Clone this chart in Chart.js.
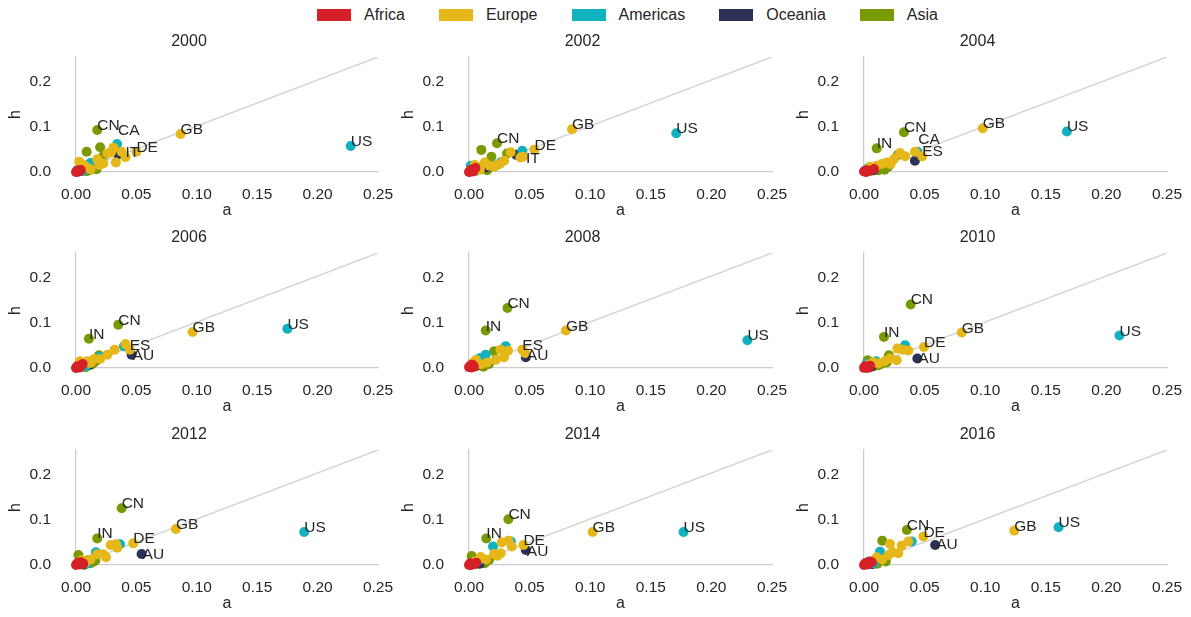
<!DOCTYPE html>
<html>
<head>
<meta charset="utf-8">
<script src="https://cdn.jsdelivr.net/npm/chart.js@4.4.1/dist/chart.umd.min.js"></script>
<style>
  html, body { margin: 0; padding: 0; background: #ffffff; }
  #wrap { position: relative; width: 1191px; height: 617px; overflow: hidden;
          font-family: 'Liberation Sans', Arial, sans-serif; color: #262626; background: #ffffff; }
  #legend { position: absolute; left: 317px; top: 0; height: 29px; display: flex; align-items: center; font-size: 16px; }
  .item { display: flex; align-items: center; margin-right: 34px; }
  .patch { width: 34px; height: 12px; margin-right: 13px; }
  canvas { position: absolute; }
</style>
</head>
<body>
<div id="wrap"><div id="legend"></div></div>
<script>
// ---- data ---------------------------------------------------------------
const regionKeys  = ['AF', 'EU', 'AM', 'OC', 'AS'];
const regionNames = ['Africa', 'Europe', 'Americas', 'Oceania', 'Asia'];
const years  = ['2000', '2002', '2004', '2006', '2008', '2010', '2012', '2014', '2016'];
const xTicks = [0, 0.05, 0.10, 0.15, 0.20, 0.25];
const yTicks = [0, 0.1, 0.2];
const xLimits = [0, 0.25];
const yLimits = [0, 0.255];

// [region, a, h, label]
const pts2000 = [
  ['AF',0,0],['AF',0.001,0.001],['AF',0.002,0.003],['AF',0.003,0.002],['AF',0.004,0.0045],
  ['AF',0.001,0.002],['AF',0.0005,0.0005],['AF',0.002,0.001],['AF',0.003,0.004],['AF',0.0015,0.0025],
  ['EU',0.0866,0.0844,'GB'],['EU',0.050,0.045,'DE'],['EU',0.041,0.033,'IT'],['EU',0.0378,0.045],
  ['EU',0.029,0.044],['EU',0.033,0.021],['EU',0.026,0.041],['EU',0.0176,0.028],['EU',0.0226,0.019],
  ['EU',0.019,0.0155],['EU',0.0027,0.023],['EU',0.006,0.0155],['EU',0.008,0.012],['EU',0.004,0.008],
  ['EU',0.012,0.006],['EU',0.031,0.054],
  ['AM',0.2274,0.0578,'US'],['AM',0.034,0.062,'CA'],['AM',0.012,0.020],['AM',0.0176,0.021],
  ['AM',0.003,0.006],['AM',0.006,0.003],['AM',0.001,0.004],
  ['OC',0.035,0.039],['OC',0.004,0.002],
  ['AS',0.0176,0.093,'CN'],['AS',0.0088,0.045],['AS',0.020,0.055],['AS',0.0226,0.0355],['AS',0.0157,0.019],
  ['AS',0.011,0.017],['AS',0.017,0.006],['AS',0.0116,0.0044],['AS',0.007,0.004],['AS',0.009,0.002],
  ['AS',0.005,0.006],['AS',0.002,0.001]
];
const pts2002 = [
  ['AF',0.0006,0.0007],['AF',0.0053,0.009],['AF',0.002,0.003],['AF',0.003,0.001],['AF',0.001,0.002],
  ['AF',0.004,0.005],['AF',0,0],['AF',0.002,0.0055],
  ['EU',0.085,0.095,'GB'],['EU',0.054,0.0496,'DE'],['EU',0.0446,0.034,'IT'],['EU',0.0424,0.032],
  ['EU',0.0344,0.0436],['EU',0.029,0.025],['EU',0.0253,0.0178],['EU',0.013,0.021],['EU',0.017,0.014],
  ['EU',0.0047,0.0155],['EU',0.021,0.012],['EU',0.009,0.005],['EU',0.003,0.008],
  ['AM',0.171,0.086,'US'],['AM',0.044,0.047],['AM',0.0014,0.014],['AM',0.026,0.021],['AM',0.006,0.004],['AM',0.002,0.007],
  ['OC',0.039,0.038],['OC',0.0143,0.010],
  ['AS',0.0231,0.0636,'CN'],['AS',0.0102,0.049],['AS',0.0185,0.034],['AS',0.0314,0.041],['AS',0.022,0.014],
  ['AS',0.011,0.0067],['AS',0.008,0.010],['AS',0.015,0.004],['AS',0.005,0.002],['AS',0.003,0.004]
];
const pts2004 = [
  ['AF',0.0017,0],['AF',0.0083,0.0067],['AF',0.001,0.002],['AF',0.003,0.001],['AF',0.002,0.004],
  ['AF',0.004,0.003],['AF',0,0.001],
  ['EU',0.098,0.097,'GB'],['EU',0.048,0.0347,'ES'],['EU',0.0421,0.045],['EU',0.034,0.035],['EU',0.0297,0.042],
  ['EU',0.0248,0.029],['EU',0.0187,0.021],['EU',0.0146,0.0178],['EU',0.0105,0.014],['EU',0.005,0.0117],
  ['EU',0.022,0.018],['EU',0.007,0.006],
  ['AM',0.1674,0.090,'US'],['AM',0.044,0.0447,'CA'],['AM',0.0036,0.009],['AM',0.010,0.012],['AM',0.002,0.005],
  ['OC',0.042,0.025],['OC',0.008,0.004],
  ['AS',0.033,0.088,'CN'],['AS',0.0105,0.0524,'IN'],['AS',0.028,0.038],['AS',0.020,0.0116],['AS',0.017,0.0051],
  ['AS',0.012,0.004],['AS',0.006,0.003],['AS',0.014,0.008]
];
const pts2006 = [
  ['AF',0.0005,0.0013],['AF',0.0055,0.0089],['AF',0.002,0.003],['AF',0.003,0.001],['AF',0.001,0.004],
  ['AF',0.004,0.005],['AF',0,0],
  ['EU',0.0965,0.080,'GB'],['EU',0.0445,0.0407,'ES'],['EU',0.041,0.053],['EU',0.032,0.0407],['EU',0.026,0.0296],
  ['EU',0.015,0.02],['EU',0.0095,0.0148],['EU',0.0033,0.0148],['EU',0.006,0.01],['EU',0.012,0.011],['EU',0.020,0.02],
  ['AM',0.175,0.087,'US'],['AM',0.0397,0.048],['AM',0.0198,0.025],['AM',0.004,0.006],['AM',0.008,0.004],
  ['OC',0.046,0.0296,'AU'],['OC',0.011,0.0074],
  ['AS',0.035,0.096,'CN'],['AS',0.0107,0.065,'IN'],['AS',0.019,0.028],['AS',0.0163,0.0148],['AS',0.0124,0.0074],
  ['AS',0.005,0.003],['AS',0.008,0.002],['AS',0.014,0.01]
];
const pts2008 = [
  ['AF',0,0.002],['AF',0.0028,0.0074],['AF',0.001,0.004],['AF',0.002,0.001],['AF',0.004,0.003],
  ['AF',0.0015,0.006],['AF',0.003,0.005],
  ['EU',0.080,0.083,'GB'],['EU',0.044,0.0407,'ES'],['EU',0.0463,0.033],['EU',0.0322,0.0385],['EU',0.026,0.0407],
  ['EU',0.0289,0.0237],['EU',0.0221,0.0185],['EU',0.0058,0.018],['EU',0.003,0.011],['EU',0.010,0.008],['EU',0.015,0.012],
  ['AM',0.2297,0.0615,'US'],['AM',0.0303,0.048],['AM',0.0138,0.0296],['AM',0.0091,0.022],['AM',0.004,0.006],
  ['OC',0.0469,0.0237,'AU'],['OC',0.009,0.007],
  ['AS',0.0317,0.133,'CN'],['AS',0.0138,0.083,'IN'],['AS',0.0207,0.037],['AS',0.0165,0.0089],['AS',0.0105,0.0148],
  ['AS',0.006,0.004],['AS',0.012,0.003]
];
const pts2010 = [
  ['AF',0,0.0003],['AF',0.005,0.005],['AF',0.002,0.002],['AF',0.003,0.0005],['AF',0.001,0.004],
  ['AF',0.004,0.001],['AF',0.0015,0.001],
  ['EU',0.0807,0.0787,'GB'],['EU',0.0495,0.0467,'DE'],['EU',0.0275,0.043],['EU',0.0325,0.0407],['EU',0.0366,0.039],
  ['EU',0.0215,0.021],['EU',0.027,0.017],['EU',0.0077,0.013],['EU',0.004,0.008],['EU',0.012,0.01],['EU',0.017,0.015],
  ['AM',0.2108,0.072,'US'],['AM',0.0339,0.0504],['AM',0.010,0.015],['AM',0.005,0.006],['AM',0.002,0.009],
  ['OC',0.044,0.021,'AU'],['OC',0.006,0.003],
  ['AS',0.0385,0.141,'CN'],['AS',0.0165,0.069,'IN'],['AS',0.0206,0.028],['AS',0.0187,0.012],['AS',0.0118,0.006],
  ['AS',0.003,0.017],['AS',0.008,0.004],['AS',0.014,0.009]
];
const pts2012 = [
  ['AF',0,0],['AF',0.0047,0.0052],['AF',0.002,0.002],['AF',0.001,0.004],['AF',0.003,0.001],
  ['AF',0.0035,0.006],['AF',0.006,0.003],
  ['EU',0.0827,0.080,'GB'],['EU',0.0474,0.048,'DE'],['EU',0.0287,0.0444],['EU',0.0331,0.046],['EU',0.0342,0.0385],
  ['EU',0.0176,0.0237],['EU',0.0226,0.024],['EU',0.0248,0.017],['EU',0.0047,0.0104],['EU',0.008,0.006],['EU',0.012,0.012],
  ['AM',0.1889,0.0733,'US'],['AM',0.0364,0.046],['AM',0.0165,0.028],['AM',0.004,0.007],['AM',0.009,0.003],
  ['OC',0.0543,0.0244,'AU'],['OC',0.007,0.002],
  ['AS',0.0378,0.126,'CN'],['AS',0.0176,0.059,'IN'],['AS',0.0143,0.0074],['AS',0.0102,0.0104],['AS',0.002,0.022],
  ['AS',0.0066,0],['AS',0.012,0.004],['AS',0.016,0.01]
];
const pts2014 = [
  ['AF',0,0],['AF',0.006,0.0052],['AF',0.002,0.002],['AF',0.001,0.004],['AF',0.003,0.001],
  ['AF',0.004,0.003],['AF',0.0015,0],
  ['EU',0.102,0.0733,'GB'],['EU',0.0449,0.0444,'DE'],['EU',0.0325,0.054],['EU',0.027,0.05],['EU',0.0353,0.041],
  ['EU',0.0207,0.0244],['EU',0.0262,0.026],['EU',0.0234,0.0207],['EU',0.0096,0.0178],['EU',0.005,0.008],['EU',0.014,0.012],
  ['AM',0.177,0.0733,'US'],['AM',0.0198,0.041],['AM',0.0345,0.052],['AM',0.004,0.006],['AM',0.008,0.01],
  ['OC',0.0469,0.0333,'AU'],['OC',0.009,0.003],
  ['AS',0.0325,0.1015,'CN'],['AS',0.0143,0.059,'IN'],['AS',0.0165,0.011],['AS',0.011,0.0074],['AS',0.0022,0.02],
  ['AS',0.006,0.002],['AS',0.013,0.004]
];
const pts2016 = [
  ['AF',0,0],['AF',0.005,0.008],['AF',0.002,0.002],['AF',0.001,0.004],['AF',0.003,0.001],
  ['AF',0.004,0.004],['AF',0.0065,0.006],
  ['EU',0.124,0.0763,'GB'],['EU',0.049,0.063,'DE'],['EU',0.0366,0.052],['EU',0.0215,0.0467],['EU',0.0311,0.0429],
  ['EU',0.0283,0.026],['EU',0.0237,0.028],['EU',0.0204,0.022],['EU',0.0105,0.017],['EU',0.006,0.008],['EU',0.015,0.012],
  ['AM',0.1605,0.0837,'US'],['AM',0.0394,0.052],['AM',0.0132,0.0296],['AM',0.0036,0.0074],['AM',0.008,0.004],
  ['OC',0.0587,0.0444,'AU'],['OC',0.007,0.002],
  ['AS',0.0353,0.0778,'CN'],['AS',0.0151,0.054],['AS',0.0173,0.0148],['AS',0.0132,0.0126],['AS',0.0077,0.0074],
  ['AS',0.011,0.003],['AS',0.018,0.008]
];
const yearPoints = [pts2000, pts2002, pts2004, pts2006, pts2008, pts2010, pts2012, pts2014, pts2016];

// ---- styling ------------------------------------------------------------
const regionColors = ['#d62027', '#e5b719', '#10b2bf', '#2c3256', '#7a9a03'];
const textColor = '#262626';
const spineColor = '#cccccc';
const fontFamily = "'Liberation Sans', Arial, sans-serif";

// small pixel shifts so crowded labels stay readable
const labelShift = {
  '2000:CA': [1, -9], '2002:IT': [3, 6], '2004:CA': [1, -8],
  '2006:AU': [1, 5], '2008:AU': [1, 3], '2010:AU': [1, 4],
  '2012:AU': [1, 5], '2014:AU': [1, 6], '2016:AU': [1, 4]
};

// panel geometry
const colPlot = [[76, 378], [469, 772], [864, 1167]];
const rowBase = [172, 368, 565];
const canvasLeft = [0, 393, 788];
const canvasRight = [400, 793, 1191];

Chart.defaults.font.family = fontFamily;
Chart.defaults.color = textColor;

// legend
const legend = document.getElementById('legend');
regionNames.forEach((name, i) => {
  const item = document.createElement('div');
  item.className = 'item';
  const patch = document.createElement('span');
  patch.className = 'patch';
  patch.style.background = regionColors[i];
  const label = document.createElement('span');
  label.textContent = name;
  item.appendChild(patch);
  item.appendChild(label);
  legend.appendChild(item);
});

// country codes written next to their markers
const pointLabels = {
  id: 'pointLabels',
  afterDatasetsDraw(chart, args, opts) {
    const { ctx, scales: { x, y } } = chart;
    ctx.save();
    ctx.font = '15.5px ' + fontFamily;
    ctx.fillStyle = textColor;
    ctx.textAlign = 'left';
    ctx.textBaseline = 'alphabetic';
    opts.points.forEach(p => {
      if (!p[3]) return;
      const shift = labelShift[opts.year + ':' + p[3]] || [0, 0];
      ctx.fillText(p[3], x.getPixelForValue(p[1]) + shift[0], y.getPixelForValue(p[2]) + shift[1]);
    });
    ctx.restore();
  }
};

const wrap = document.getElementById('wrap');
years.forEach((year, i) => {
  const r = Math.floor(i / 3), c = i % 3;
  const left = canvasLeft[c];
  const w = canvasRight[c] - left;
  const h = 212;
  const top = rowBase[r] - 152;
  const cv = document.createElement('canvas');
  cv.width = w; cv.height = h;
  cv.style.left = left + 'px'; cv.style.top = top + 'px';
  cv.style.width = w + 'px'; cv.style.height = h + 'px';
  wrap.appendChild(cv);

  const yAxisWidth = colPlot[c][0] - left;
  const padRight = w - (colPlot[c][1] - left);
  const pts = yearPoints[i];

  const datasets = regionKeys.map((key, k) => ({
    label: regionNames[k],
    data: pts.filter(p => p[0] === key).map(p => ({ x: p[1], y: p[2] })),
    backgroundColor: regionColors[k],
    borderWidth: 0,
    pointRadius: 5,
    pointHoverRadius: 5,
    clip: false,
    order: k
  }));
  datasets.push({
    label: 'diagonal',
    data: [{ x: xLimits[0], y: yLimits[0] }, { x: xLimits[1], y: yLimits[1] }],
    showLine: true,
    borderColor: '#d4d4d4',
    borderWidth: 1.5,
    pointRadius: 0,
    order: 20
  });

  new Chart(cv, {
    type: 'scatter',
    data: { datasets },
    plugins: [pointLabels],
    options: {
      responsive: false,
      animation: false,
      devicePixelRatio: 1,
      layout: { padding: { left: 0, top: 0, right: padRight, bottom: 0 } },
      plugins: {
        legend: { display: false },
        tooltip: { enabled: false },
        title: {
          display: true, text: year, color: textColor,
          font: { size: 16, weight: 'normal', lineHeight: 1.2 },
          padding: { top: 12, bottom: 5.8 }
        },
        pointLabels: { points: pts, year }
      },
      scales: {
        x: {
          type: 'linear', min: xLimits[0], max: xLimits[1],
          grid: { display: false, drawTicks: false },
          border: { display: true, color: spineColor, width: 1.25 },
          afterBuildTicks: s => { s.ticks = xTicks.map(v => ({ value: v })); },
          afterFit: s => { s.height = 60; s.paddingLeft = 0; s.paddingRight = 0; },
          ticks: {
            color: textColor, padding: 13, maxRotation: 0, autoSkip: false,
            font: { size: 15.5 },
            callback: v => v.toFixed(2)
          },
          title: {
            display: true, text: 'a', color: textColor,
            font: { size: 16, lineHeight: 1.2 }, padding: { top: 0, bottom: 11.4 }
          }
        },
        y: {
          type: 'linear', min: yLimits[0], max: yLimits[1],
          grid: { display: false, drawTicks: false },
          border: { display: true, color: spineColor, width: 1.25 },
          afterBuildTicks: s => { s.ticks = yTicks.map(v => ({ value: v })); },
          afterFit: s => { s.width = yAxisWidth; s.paddingTop = 0; s.paddingBottom = 0; },
          ticks: {
            color: textColor, padding: 25, autoSkip: false,
            font: { size: 15.5 },
            callback: v => v.toFixed(1)
          },
          title: {
            display: true, text: 'h', color: textColor,
            font: { size: 16, lineHeight: 1.2 }, padding: { top: 6.4, bottom: 0 }
          }
        }
      }
    }
  });
});
</script>
</body>
</html>
